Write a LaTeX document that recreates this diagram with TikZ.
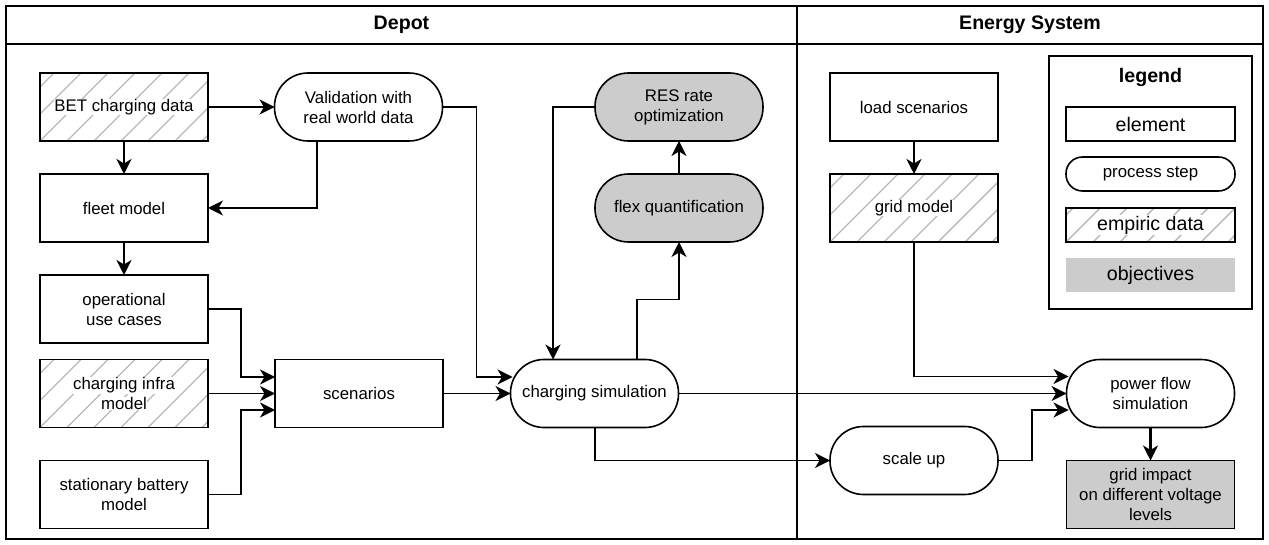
\documentclass[tikz,border=0pt]{standalone}
\usepackage{fontspec}
\setmainfont{Liberation Sans}
\usetikzlibrary{arrows.meta}
\definecolor{objgray}{HTML}{CCCCCC}
\definecolor{hatchgray}{HTML}{B8B8B8}
\newcommand\bodyf{\fontsize{16.8}{20}\selectfont}
\newcommand\bigf{\fontsize{19.6}{23}\selectfont}
\newcommand\wbg[1]{{\setlength\fboxsep{0.6pt}\colorbox{white}{#1}}}
\tikzset{
  box/.style={draw, line width=1.6pt, minimum width=168pt, minimum height=68pt,
    inner sep=0pt, outer sep=0pt, align=center, font=\bodyf},
  proc/.style={box, rounded corners=33.5pt},
  obj/.style={fill=objgray},
  hatch/.style={path picture={
    \foreach \k in {-4,...,8}{
      \draw[hatchgray, line width=1.4pt]
        ([xshift=\k*27pt]path picture bounding box.south west) -- ++(100pt,100pt);}}},
  arr/.style={-{Stealth[length=15pt,width=15pt,inset=4.5pt]}, line width=1.4pt},
  tarr/.style={arr, line width=2.2pt},
  frame/.style={line width=1.8pt},
  title/.style={font=\bigf\bfseries, inner sep=0pt}
}
\begin{document}
\begin{tikzpicture}[x=1pt, y=-1pt]
\useasboundingbox (0,0) rectangle (1269,545);
% frame
\draw[frame] (6,6) rectangle (1263,539);
\draw[frame] (6,44) -- (1263,44);
\draw[frame] (797,6) -- (797,539);
\node[title] (tdepot) at (401.5,25) {Depot};
\node[title] (tenergy) at (1030,25) {Energy System};

% depot nodes
\node[box, hatch] (bet) at (124,107) {\wbg{BET charging data}};
\node[proc] (val) at (358.5,107) {Validation with\\real world data};
\node[box] (fleet) at (124,208) {fleet model};
\node[box] (ops) at (124,309) {operational\\use cases};
\node[box, hatch] (infra) at (124,393.5) {\wbg{charging infra}\\\wbg{model}};
\node[box] (batt) at (124,494.5) {stationary battery\\model};
\node[box] (scen) at (359,393.5) {scenarios};
\node[proc] (cs) at (594.5,393.5) {charging simulation};
\node[proc, obj] (res) at (679,107) {RES rate\\optimization};
\node[proc, obj] (flex) at (679,208) {flex quantification};

% energy system nodes
\node[box] (load) at (914,107) {load scenarios};
\node[box, hatch] (grid) at (914,208) {\wbg{grid model}};
\node[proc] (pf) at (1150.5,393.5) {power flow\\simulation};
\node[proc] (scale) at (914,460.5) {scale up};
\node[box, obj] (impact) at (1150.5,494.5) {grid impact\\on different voltage\\levels};

% legend
\node[draw, line width=1.6pt, minimum width=203pt, minimum height=253pt, inner sep=0pt] (legend) at (1150.5,182.5) {};
\node[title] (legtitle) at (1150.5,77) {legend};
\node[box, minimum width=169pt, minimum height=34pt, font=\bigf] (legel) at (1150.5,124) {element};
\node[box, minimum width=169pt, minimum height=34pt, rounded corners=16.5pt] (legproc) at (1150.5,174) {process step};
\node[box, hatch, minimum width=169pt, minimum height=34pt, font=\bigf] (legemp) at (1150.5,225) {\wbg{empiric data}};
\node[box, obj, draw=none, minimum width=169pt, minimum height=34pt, font=\bigf] (legobj) at (1150.5,275.5) {objectives};

% connectors
\draw[arr] (bet.east) -- (val.west);
\draw[tarr] (bet.south) -- (fleet.north);
\draw[arr] ([xshift=-41.5pt]val.south) |- (fleet.east);
\draw[tarr] (fleet.south) -- (ops.north);
\draw[arr] (ops.east) -- ++(33,0) |- ([yshift=16.5pt]scen.west);
\draw[arr] (infra.east) -- (scen.west);
\draw[arr] (batt.east) -- ++(33,0) |- ([yshift=-16.5pt]scen.west);
\draw[arr] (val.east) -- ++(34,0) |- ([xshift=2pt,yshift=16.5pt]cs.west);
\draw[arr] (scen.east) -- (cs.west);
\draw[arr] (res.west) -| ([xshift=-41.5pt]cs.north);
\draw[arr] ([xshift=42.5pt]cs.north) -- ++(0,-60) -| (flex.south);
\draw[tarr] (flex.north) -- (res.south);
\draw[arr] (cs.east) -- (pf.west);
\draw[arr] ([xshift=0.5pt]cs.south) |- (scale.west);
\draw[arr] (grid.south) |- ([xshift=2pt,yshift=17pt]pf.west);
\draw[arr] (scale.east) -- ++(34,0) |- ([xshift=2pt,yshift=-16.5pt]pf.west);
\draw[tarr] (pf.south) -- (impact.north);
\draw[tarr] (load.south) -- (grid.north);
\end{tikzpicture}
\end{document}
